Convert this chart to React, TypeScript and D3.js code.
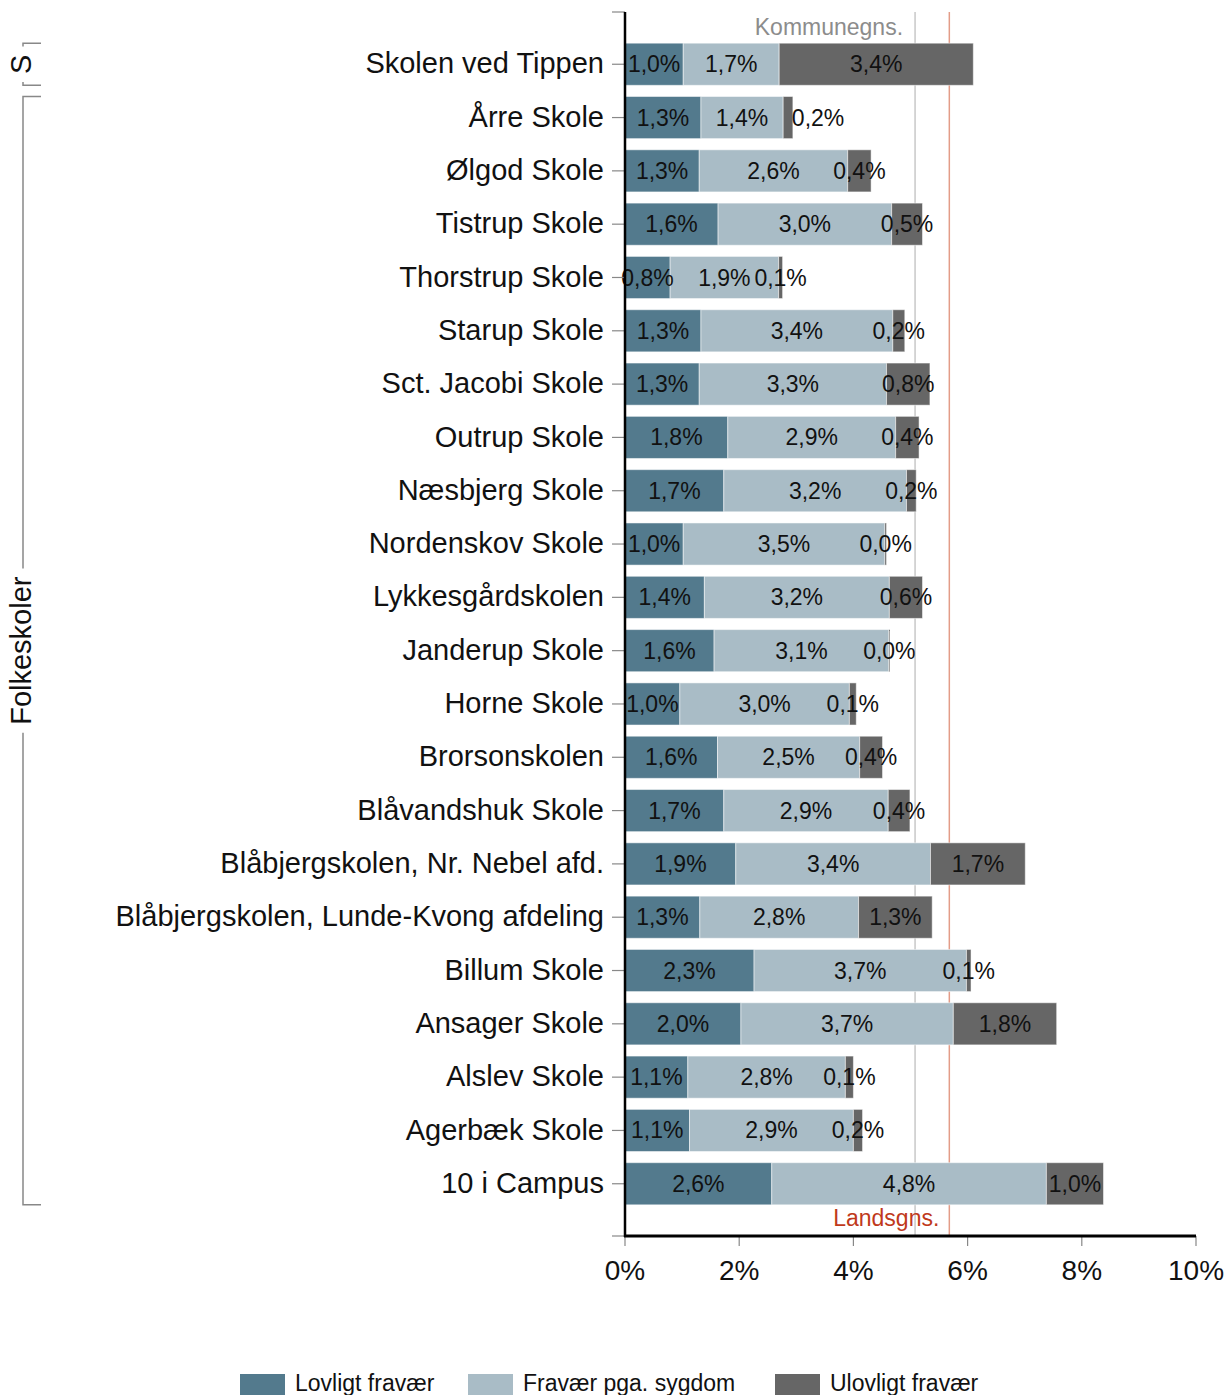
import React from "react";
import * as d3 from "d3";

const schools = [
  "Skolen ved Tippen",
  "Årre Skole",
  "Ølgod Skole",
  "Tistrup Skole",
  "Thorstrup Skole",
  "Starup Skole",
  "Sct. Jacobi Skole",
  "Outrup Skole",
  "Næsbjerg Skole",
  "Nordenskov Skole",
  "Lykkesgårdskolen",
  "Janderup Skole",
  "Horne Skole",
  "Brorsonskolen",
  "Blåvandshuk Skole",
  "Blåbjergskolen, Nr. Nebel afd.",
  "Blåbjergskolen, Lunde-Kvong afdeling",
  "Billum Skole",
  "Ansager Skole",
  "Alslev Skole",
  "Agerbæk Skole",
  "10 i Campus",
];

// fravær i procent, aflæst fra søjlerne
const lovligt = [1.02, 1.33, 1.3, 1.63, 0.79, 1.33, 1.3, 1.8, 1.73, 1.02, 1.39, 1.56, 0.96, 1.62, 1.73, 1.94, 1.31, 2.26, 2.03, 1.1, 1.13, 2.57];
const sygdom = [1.68, 1.44, 2.6, 3.04, 1.9, 3.36, 3.28, 2.94, 3.2, 3.53, 3.24, 3.06, 2.97, 2.49, 2.88, 3.41, 2.78, 3.72, 3.72, 2.76, 2.87, 4.81];
const ulovligt = [3.4, 0.17, 0.41, 0.54, 0.07, 0.21, 0.76, 0.41, 0.17, 0.03, 0.58, 0.02, 0.12, 0.4, 0.38, 1.66, 1.29, 0.08, 1.81, 0.14, 0.16, 1.0];

const seriesNames = ["Lovligt fravær", "Fravær pga. sygdom", "Ulovligt fravær"];
const seriesColors = ["#537a8d", "#a9bcc6", "#666666"];

const xTicks = [0, 2, 4, 6, 8, 10];

const kommuneGns = 5.08;
const landsGns = 5.68;

const groups = [
  { label: "S", from: 0, to: 0 },
  { label: "Folkeskoler", from: 1, to: 21 },
];

const FONT = "'Liberation Sans', Arial, sans-serif";

let ctx: CanvasRenderingContext2D | null = null;
function textWidth(text: string, size: number) {
  if (!ctx) ctx = document.createElement("canvas").getContext("2d");
  if (!ctx) return text.length * size * 0.55;
  ctx.font = `${size}px ${FONT}`;
  return ctx.measureText(text).width;
}

const fmt = (v: number) => d3.format(".1f")(v).replace(".", ",") + "%";

export default function App() {
  const width = 1228;
  const height = 1395;
  const x0 = 625;
  const x1 = 1196;
  const yTop = 12;
  const yBottom = 1236;

  const x = d3.scaleLinear().domain([0, 10]).range([x0, x1]);
  const y = d3
    .scaleBand<number>()
    .domain(d3.range(schools.length))
    .range([yTop, yBottom])
    .paddingInner(0.21)
    .paddingOuter(0.585);

  const rows = schools.map((name, i) => ({
    name,
    values: [lovligt[i], sygdom[i], ulovligt[i]],
  }));

  const stack = d3
    .stack<any>()
    .keys(["0", "1", "2"])
    .value((d, k) => d.values[+k]);
  const stacked = stack(rows);

  const bw = y.bandwidth();
  const valueSize = 23;
  const catSize = 29;

  return (
    <div style={{ position: "absolute", left: 0, top: 0 }}>
      <svg width={width} height={height} style={{ display: "block", fontFamily: FONT }}>
        <rect width={width} height={height} fill="#fff" />

        {/* gennemsnitslinjer */}
        <line x1={x(kommuneGns)} x2={x(kommuneGns)} y1={yTop} y2={yBottom} stroke="#c8c8c8" strokeWidth={1.5} />
        <line x1={x(landsGns)} x2={x(landsGns)} y1={yTop} y2={yBottom} stroke="#e39c88" strokeWidth={1.5} />
        <text x={x(kommuneGns) - 12} y={35} textAnchor="end" fontSize={23} fill="#8c8c8c">
          Kommunegns.
        </text>
        <text x={x(landsGns) - 10} y={1226} textAnchor="end" fontSize={23} fill="#c0391b">
          Landsgns.
        </text>

        {/* søjler */}
        {stacked.map((layer, k) =>
          layer.map((d, i) => (
            <rect
              key={`${k}-${i}`}
              x={x(d[0])}
              y={y(i)}
              width={Math.max(0, x(d[1]) - x(d[0]))}
              height={bw}
              fill={seriesColors[k]}
              stroke="#fff"
              strokeOpacity={0.5}
              strokeWidth={1}
            />
          ))
        )}

        {/* værdier */}
        {rows.map((r, i) => {
          let prevRight = -Infinity;
          return r.values.map((v, k) => {
            const seg = stacked[k][i];
            const label = fmt(v);
            const w = textWidth(label, valueSize);
            let cx = (x(seg[0]) + x(seg[1])) / 2;
            // overlap: label flyttes ud til højre for søjlen
            if (cx - w / 2 < prevRight + 3) cx = Math.max(x(seg[1]) - 1, prevRight + 3) + w / 2;
            prevRight = cx + w / 2;
            return (
              <text
                key={`v-${i}-${k}`}
                x={cx}
                y={y(i)! + bw / 2}
                dy="0.35em"
                textAnchor="middle"
                fontSize={valueSize}
                fill="#111"
              >
                {label}
              </text>
            );
          });
        })}

        {/* y-akse */}
        {[yTop, yBottom].map((yy) => (
          <line key={yy} x1={612} x2={x0} y1={yy} y2={yy} stroke="#888" strokeWidth={1.2} />
        ))}
        {schools.map((s, i) => (
          <g key={s}>
            <line x1={612} x2={x0} y1={y(i)! + bw / 2} y2={y(i)! + bw / 2} stroke="#888" strokeWidth={1.2} />
            <text x={604} y={y(i)! + bw / 2 - 1} dy="0.35em" textAnchor="end" fontSize={catSize} fill="#111">
              {s}
            </text>
          </g>
        ))}
        <line x1={x0} x2={x0} y1={yTop} y2={yBottom + 1} stroke="#000" strokeWidth={2.5} />

        {/* x-akse */}
        {xTicks.map((t) => (
          <g key={t}>
            <line x1={x(t)} x2={x(t)} y1={yBottom} y2={yBottom + 10} stroke="#888" strokeWidth={1.2} />
            <text x={x(t)} y={yBottom + 34} dy="0.35em" textAnchor="middle" fontSize={28} fill="#111">
              {t}%
            </text>
          </g>
        ))}
        <line x1={x0 - 1} x2={x1} y1={yBottom} y2={yBottom} stroke="#000" strokeWidth={3} />

        {/* grupper */}
        {groups.map((g) => {
          const top = y(g.from)!;
          const bottom = y(g.to)! + bw;
          const mid = (top + bottom) / 2;
          const half = textWidth(g.label, catSize) / 2 + 8;
          return (
            <g key={g.label}>
              <path
                d={`M41,${top}H23V${mid - half}M23,${mid + half}V${bottom}H41`}
                fill="none"
                stroke="#888"
                strokeWidth={1.5}
              />
              <text
                transform={`translate(21,${mid}) rotate(-90)`}
                dy="0.35em"
                textAnchor="middle"
                fontSize={catSize}
                fill="#111"
              >
                {g.label}
              </text>
            </g>
          );
        })}

        {/* legende */}
        {seriesNames.map((n, k) => {
          const lx = [240, 468, 775][k];
          return (
            <g key={n}>
              <rect x={lx} y={1374} width={45} height={24} fill={seriesColors[k]} />
              <text x={lx + 55} y={1383} dy="0.35em" fontSize={23} fill="#111">
                {n}
              </text>
            </g>
          );
        })}
      </svg>
    </div>
  );
}
